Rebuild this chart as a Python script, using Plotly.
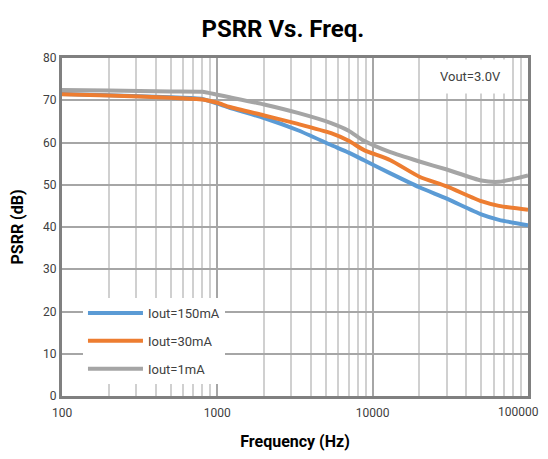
import plotly.graph_objects as go

freq = [100, 200, 500, 800, 1000, 1200, 2000, 3300, 5400, 7000, 8800, 13000, 20000, 30000, 50000, 65000, 100000]
psrr_150mA = [71.5, 71.2, 70.7, 70.3, 69.2, 68.2, 65.8, 62.9, 59.4, 57.6, 55.8, 52.7, 49.4, 46.7, 43.0, 41.7, 40.4]
psrr_30mA = [71.4, 71.1, 70.6, 70.2, 69.4, 68.4, 66.4, 64.4, 62.2, 60.4, 58.2, 55.8, 51.9, 49.6, 46.1, 45.0, 44.1]
psrr_1mA = [72.4, 72.3, 72.1, 72.0, 71.3, 70.7, 69.0, 67.0, 64.6, 62.8, 60.4, 57.7, 55.5, 53.6, 51.0, 50.7, 52.2]

x_tick_vals = [100, 1000, 10000, 100000]
x_tick_text = ["100", "1000", "10000", "100000"]

series = [
    ("Iout=150mA", psrr_150mA, "#5b9bd5"),
    ("Iout=30mA", psrr_30mA, "#ed7d31"),
    ("Iout=1mA", psrr_1mA, "#a5a5a5"),
]

FONT = "Roboto, Liberation Sans, sans-serif"

fig = go.Figure()
for name, vals, color in series:
    fig.add_trace(go.Scatter(
        x=freq, y=vals, name=name, mode="lines", legendgroup=name,
        line=dict(color=color, width=4, shape="spline", smoothing=0.6),
    ))

fig.update_layout(
    width=540, height=451,
    margin=dict(l=54, r=20, t=50, b=63),
    paper_bgcolor="white", plot_bgcolor="white",
    font=dict(family=FONT, size=12, color="#404040"),
    title=dict(text="<b>PSRR Vs. Freq.</b>", x=0.509, xanchor="center", y=0.955, yanchor="middle",
               font=dict(family=FONT, size=24, color="#000000")),
    legend=dict(x=0.045, y=0.29, xanchor="left", yanchor="top", bgcolor="white",
                font=dict(family=FONT, size=13, color="#404040"), tracegroupgap=8, itemwidth=55),
    showlegend=True,
)
# last tick label drawn as a right-anchored annotation so it stays inside the page
fig.update_xaxes(
    type="log", range=[2, 5], tickmode="array",
    tickvals=x_tick_vals, ticktext=x_tick_text[:-1] + [""],
    showgrid=True, gridcolor="#a6a6a6", gridwidth=1.5,
    minor=dict(dtick="D1", showgrid=True, gridcolor="#d0d0d0", gridwidth=1.5),
    showline=True, linecolor="#808080", linewidth=3, mirror=True,
    ticks="", tickfont=dict(size=12, color="#404040"),
    ticklabelstandoff=4, automargin=False,
    title=dict(text="<b>Frequency (Hz)</b>", font=dict(family=FONT, size=16, color="#000000"), standoff=17),
)
fig.add_annotation(
    xref="paper", yref="paper", x=1, y=0, xanchor="right", yanchor="top",
    xshift=13, yshift=-7, text=x_tick_text[-1], showarrow=False,
    font=dict(family=FONT, size=12, color="#404040"),
)
fig.update_yaxes(
    range=[0, 80], dtick=10,
    showgrid=True, gridcolor="#a6a6a6", gridwidth=1.5,
    showline=True, linecolor="#808080", linewidth=3, mirror=True,
    ticks="", tickfont=dict(size=12, color="#404040"), zeroline=False, automargin=False,
    title=dict(text="<b>PSRR (dB)</b>", font=dict(family=FONT, size=16, color="#000000"), standoff=17),
)
fig.add_annotation(
    xref="paper", yref="paper", x=0.876, y=0.944, xanchor="center", yanchor="middle",
    text="Vout=3.0V", showarrow=False, bgcolor="white", borderpad=9,
    font=dict(family=FONT, size=13, color="#404040"),
)
fig.write_html("out.html")
